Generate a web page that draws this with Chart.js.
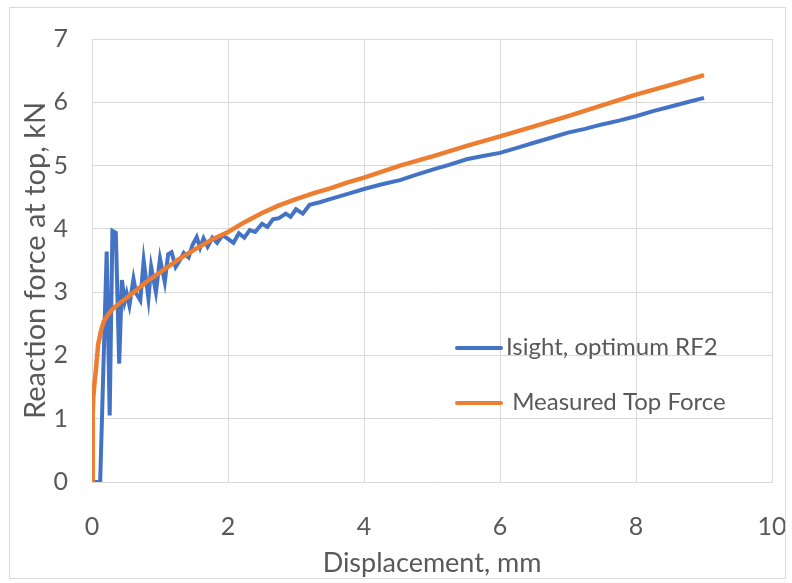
<!DOCTYPE html>
<html>
<head>
<meta charset="utf-8">
<script src="https://cdn.jsdelivr.net/npm/chart.js@4/dist/chart.umd.min.js"></script>
<style>
  body { margin: 0; background: #fff; }
  #wrap { position: relative; width: 792px; height: 583px; }
  #frame { position: absolute; left: 9px; top: 7px; width: 775px; height: 570px; border: 1px solid #d9d9d9; pointer-events: none; }
</style>
</head>
<body>
<div id="wrap">
  <canvas id="forceChart" width="792" height="583"></canvas>
  <div id="frame"></div>
</div>
<script>
// Isight, optimum RF2 (blue)
const isightDisp = [0, 0.06, 0.12, 0.216, 0.26, 0.30, 0.35, 0.40, 0.44, 0.48, 0.51, 0.55, 0.61, 0.65, 0.71, 0.76, 0.83, 0.87, 0.94, 1.0, 1.07, 1.12, 1.17, 1.23, 1.29, 1.35, 1.42, 1.48, 1.54, 1.59, 1.64, 1.70, 1.77, 1.84, 1.92, 2.0, 2.08, 2.16, 2.24, 2.32, 2.4, 2.5, 2.58, 2.66, 2.75, 2.85, 2.92, 3.0, 3.1, 3.2, 3.35, 3.5, 3.75, 4.0, 4.25, 4.53, 4.75, 5.02, 5.25, 5.51, 5.75, 6.0, 6.25, 6.5, 6.75, 7.0, 7.25, 7.5, 7.75, 8.0, 8.25, 8.5, 8.75, 9.0]
const isightForce = [0, 0, 0, 3.64, 1.05, 3.97, 3.94, 1.87, 3.19, 2.85, 2.98, 2.79, 3.21, 2.98, 2.87, 3.50, 2.90, 3.40, 3.0, 3.53, 3.16, 3.6, 3.63, 3.4, 3.50, 3.62, 3.55, 3.75, 3.87, 3.7, 3.85, 3.72, 3.86, 3.78, 3.9, 3.84, 3.78, 3.93, 3.86, 3.98, 3.95, 4.08, 4.03, 4.15, 4.17, 4.24, 4.19, 4.31, 4.24, 4.38, 4.42, 4.47, 4.55, 4.63, 4.70, 4.77, 4.85, 4.94, 5.01, 5.10, 5.15, 5.20, 5.28, 5.36, 5.44, 5.52, 5.58, 5.65, 5.71, 5.78, 5.86, 5.93, 6.0, 6.07]

// Measured Top Force (orange)
const measuredDisp = [0, 0.01, 0.02, 0.04, 0.06, 0.09, 0.13, 0.17, 0.24, 0.31, 0.4, 0.56, 0.8, 1.05, 1.29, 1.55, 1.78, 2.0, 2.25, 2.5, 2.75, 3.0, 3.25, 3.5, 3.75, 4.0, 4.53, 5.02, 5.51, 6.0, 6.5, 7.0, 7.5, 8.0, 8.5, 9.0]
const measuredForce = [0, 1.07, 1.35, 1.6, 1.80, 2.17, 2.38, 2.53, 2.65, 2.74, 2.82, 2.95, 3.16, 3.35, 3.53, 3.70, 3.84, 3.95, 4.11, 4.25, 4.37, 4.47, 4.56, 4.64, 4.73, 4.81, 5.0, 5.15, 5.31, 5.46, 5.62, 5.78, 5.95, 6.12, 6.27, 6.43]

const seriesNames = ['Isight, optimum RF2', ' Measured Top Force']
const seriesColors = ['#4472C4', '#ED7D31']

const xTitle = 'Displacement, mm'
const yTitle = 'Reaction force at top, kN'

const toPoints = (xs, ys) => xs.map((x, i) => ({ x, y: ys[i] }))

const textGray = '#595959'
const gridGray = '#d9d9d9'
const fontFamily = 'Lato, "Open Sans", sans-serif'

// legend sits inside the plot area, lower right
const insideLegend = {
  id: 'insideLegend',
  afterDraw (chart) {
    const { ctx, chartArea } = chart
    const x0 = chartArea.left + 365
    const rows = [chartArea.top + 309, chartArea.top + 364]
    ctx.save()
    ctx.font = '24px ' + fontFamily
    ctx.textBaseline = 'middle'
    ctx.fillStyle = textGray
    rows.forEach((y, i) => {
      ctx.strokeStyle = seriesColors[i]
      ctx.lineWidth = 4
      ctx.lineCap = 'round'
      ctx.beginPath()
      ctx.moveTo(x0, y)
      ctx.lineTo(x0 + 44, y)
      ctx.stroke()
      ctx.fillText(seriesNames[i], x0 + 49, y - 1)
    })
    ctx.restore()
  }
}

const ctx = document.getElementById('forceChart').getContext('2d')

const forceChart = new Chart(ctx, {
  type: 'scatter',
  data: {
    datasets: [
      {
        label: seriesNames[0],
        data: toPoints(isightDisp, isightForce),
        borderColor: seriesColors[0],
        backgroundColor: seriesColors[0],
        showLine: true,
        borderWidth: 4,
        pointRadius: 0,
        tension: 0,
        order: 2
      },
      {
        label: seriesNames[1],
        data: toPoints(measuredDisp, measuredForce),
        borderColor: seriesColors[1],
        backgroundColor: seriesColors[1],
        showLine: true,
        borderWidth: 4.5,
        pointRadius: 0,
        tension: 0,
        order: 1
      }
    ]
  },
  options: {
    responsive: false,
    animation: false,
    layout: { padding: { left: 0, top: 36, right: 20, bottom: 0 } },
    plugins: {
      legend: { display: false },
      tooltip: { enabled: false }
    },
    scales: {
      x: {
        type: 'linear',
        min: 0,
        max: 10,
        afterFit: (scale) => {
          scale.height = 101
          scale.paddingRight = 0
        },
        grid: { color: gridGray, drawTicks: false },
        border: { color: gridGray },
        ticks: { stepSize: 2, padding: 30, color: textGray, font: { family: fontFamily, size: 25 } },
        title: { display: true, text: xTitle, color: textGray, padding: { top: 2 }, font: { family: fontFamily, size: 27 } }
      },
      y: {
        min: 0,
        max: 7,
        afterFit: (scale) => { scale.width = 92 },
        grid: { color: gridGray, drawTicks: false },
        border: { color: gridGray },
        ticks: { stepSize: 1, padding: 24, color: textGray, font: { family: fontFamily, size: 25 } },
        title: { display: true, text: yTitle, color: textGray, padding: { top: 18, bottom: 0 }, font: { family: fontFamily, size: 29 } }
      }
    }
  },
  plugins: [insideLegend]
})
</script>
</body>
</html>
